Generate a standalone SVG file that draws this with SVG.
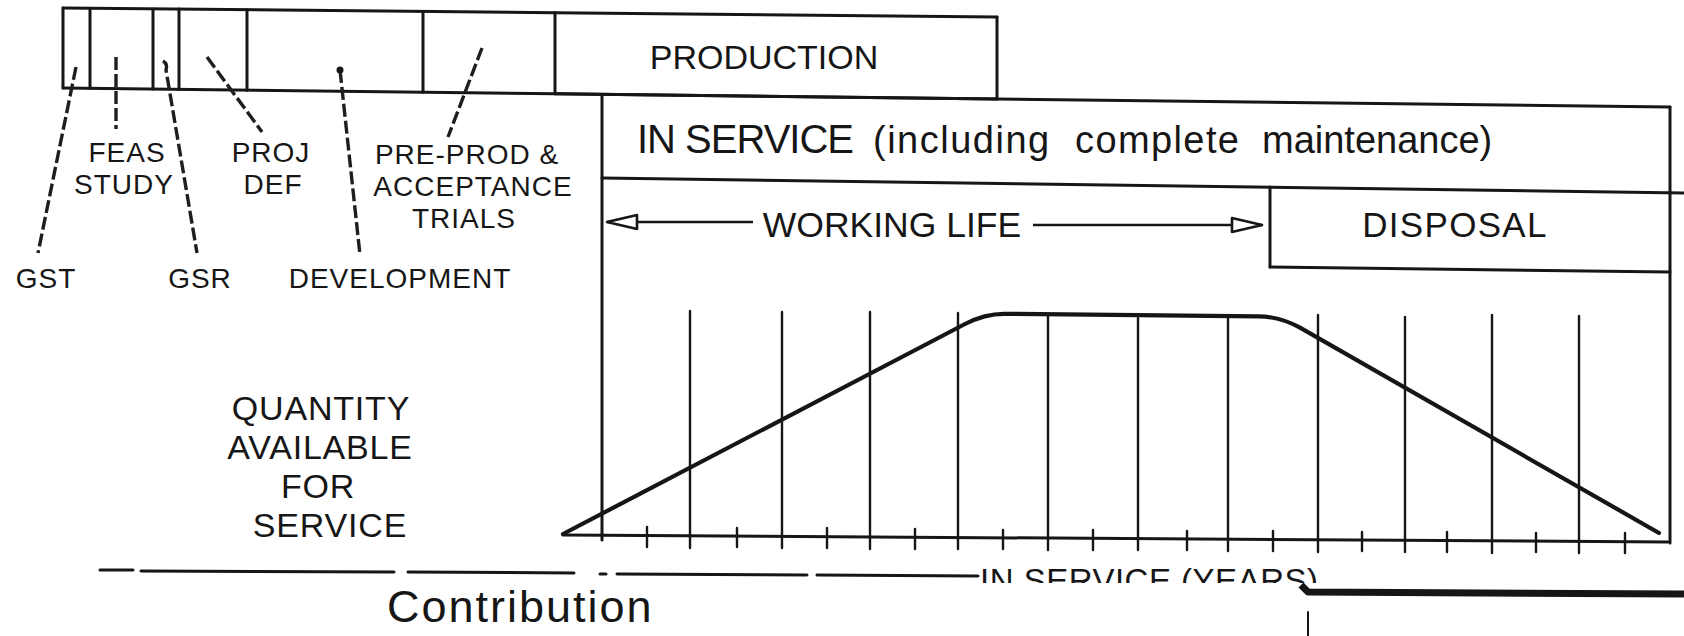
<svg xmlns="http://www.w3.org/2000/svg" width="1684" height="636" viewBox="0 0 1684 636">
  <defs>
    <style>
      .ink{stroke:#161616;fill:none;stroke-linecap:round;stroke-linejoin:round}
      .box{stroke-width:3}
      .grid{stroke-width:2.4}
      .curve{stroke-width:4.2}
      .ptr{stroke:#1e1e1e;stroke-width:3.4;fill:none;stroke-dasharray:13 4;stroke-linecap:butt}
      .arrow{stroke:#161616;stroke-width:2.6;fill:none}
      .t{font-family:"Liberation Sans",Arial,sans-serif;fill:#161616}
      .lbl{font-size:28px;letter-spacing:1px;text-anchor:middle}
      .qty{font-size:34px;letter-spacing:0.8px;text-anchor:middle}
    </style>
    <marker id="openTri" viewBox="0 0 34 18" refX="32" refY="9" markerWidth="34" markerHeight="18" markerUnits="userSpaceOnUse" orient="auto">
      <path d="M2,2 L32,9 L2,16 Z" fill="#fff" stroke="#161616" stroke-width="2.6" stroke-linejoin="round"/>
    </marker>
    <clipPath id="yearsCut">
      <rect x="960" y="555" width="420" height="28"/>
    </clipPath>
  </defs>

  <rect width="1684" height="636" fill="#fff"/>

  <!-- project phase strip along the top -->
  <g id="phase-bar" class="ink box">
    <line x1="63" y1="8" x2="555" y2="12.7"/>
    <line x1="63" y1="88" x2="555" y2="93.8"/>
    <line x1="63" y1="8" x2="63" y2="88"/>
    <line x1="90" y1="8.3" x2="90" y2="88.3"/>
    <line x1="153" y1="8.9" x2="153" y2="89.1"/>
    <line x1="179" y1="9.1" x2="179" y2="89.4"/>
    <line x1="247" y1="9.8" x2="247" y2="90.2"/>
    <line x1="423" y1="11.5" x2="423" y2="92.3"/>
    <line x1="555" y1="12.7" x2="555" y2="93.8"/>
  </g>

  <g id="production">
    <g class="ink box">
      <line x1="555" y1="12.7" x2="997" y2="17"/>
      <line x1="997" y1="17" x2="997" y2="99"/>
      <line x1="555" y1="93.8" x2="997" y2="99"/>
    </g>
    <text class="t" x="764" y="69" font-size="34" text-anchor="middle">PRODUCTION</text>
  </g>

  <g id="in-service">
    <g class="ink box">
      <line x1="555" y1="93.8" x2="1670" y2="107"/>
      <line x1="602" y1="94.4" x2="602" y2="540"/>
      <line x1="1670" y1="107" x2="1670" y2="543"/>
      <line x1="602" y1="178" x2="1684" y2="193"/>
    </g>
    <text class="t" y="153">
      <tspan x="637" font-size="40" letter-spacing="-1">IN SERVICE</tspan>
      <tspan x="873" font-size="38" letter-spacing="1.5">(including</tspan>
      <tspan x="1075" font-size="38" letter-spacing="1.4">complete</tspan>
      <tspan x="1262" font-size="38">maintenance)</tspan>
    </text>
  </g>

  <g id="working-life">
    <text class="t" x="892" y="237" font-size="35.5" text-anchor="middle">WORKING LIFE</text>
  </g>

  <g id="disposal">
    <g class="ink box">
      <line x1="1270" y1="187" x2="1270" y2="267"/>
      <line x1="1270" y1="267" x2="1670" y2="272"/>
    </g>
    <text class="t" x="1455" y="237" font-size="35" letter-spacing="1.3" text-anchor="middle">DISPOSAL</text>
  </g>

  <!-- quantity-over-time chart -->
  <g id="chart" class="ink">
    <line class="box" x1="563" y1="535" x2="1668" y2="542"/>
    <g class="grid">
      <line x1="690" y1="311" x2="690" y2="548"/>
      <line x1="782" y1="312" x2="782" y2="548"/>
      <line x1="870" y1="312" x2="870" y2="549"/>
      <line x1="958" y1="313" x2="958" y2="549"/>
      <line x1="1048" y1="315" x2="1048" y2="550"/>
      <line x1="1138" y1="318" x2="1138" y2="550"/>
      <line x1="1228" y1="317" x2="1228" y2="551"/>
      <line x1="1318" y1="315" x2="1318" y2="552"/>
      <line x1="1405" y1="317" x2="1405" y2="552"/>
      <line x1="1492" y1="315" x2="1492" y2="553"/>
      <line x1="1579" y1="316" x2="1579" y2="553"/>
      <line x1="647" y1="527" x2="647" y2="547"/>
      <line x1="737" y1="528" x2="737" y2="547"/>
      <line x1="827" y1="528" x2="827" y2="548"/>
      <line x1="915" y1="529" x2="915" y2="549"/>
      <line x1="1003" y1="530" x2="1003" y2="549"/>
      <line x1="1093" y1="530" x2="1093" y2="550"/>
      <line x1="1187" y1="531" x2="1187" y2="550"/>
      <line x1="1273" y1="531" x2="1273" y2="551"/>
      <line x1="1362" y1="532" x2="1362" y2="551"/>
      <line x1="1447" y1="532" x2="1447" y2="552"/>
      <line x1="1536" y1="533" x2="1536" y2="552"/>
      <line x1="1625" y1="533" x2="1625" y2="553"/>
    </g>
    <path class="curve" d="M563,534 L965,324 Q985,313.6 1005,313.8 L1258,316.3 Q1280,316.5 1300,327.7 L1659,533"/>
  </g>

  <!-- phase labels -->
  <g id="label-gst"><text class="t lbl" x="46" y="288">GST</text></g>
  <g id="label-feas"><text class="t lbl" x="127" y="162">FEAS</text><text class="t lbl" x="124" y="194">STUDY</text></g>
  <g id="label-gsr"><text class="t lbl" x="200" y="288">GSR</text></g>
  <g id="label-proj"><text class="t lbl" x="271" y="162">PROJ</text><text class="t lbl" x="273" y="194">DEF</text></g>
  <g id="label-development"><text class="t lbl" x="400" y="288">DEVELOPMENT</text></g>
  <g id="label-preprod">
    <text class="t lbl" x="467" y="164">PRE-PROD &amp;</text>
    <text class="t lbl" x="473" y="196">ACCEPTANCE</text>
    <text class="t lbl" x="464" y="228">TRIALS</text>
  </g>

  <g id="label-quantity">
    <text class="t qty" x="321" y="420">QUANTITY</text>
    <text class="t qty" x="320" y="459">AVAILABLE</text>
    <text class="t qty" x="318" y="498">FOR</text>
    <text class="t qty" x="330" y="537">SERVICE</text>
  </g>

  <!-- leader lines and the working-life span arrows -->
  <g id="connectors">
    <line class="ptr" x1="76" y1="67" x2="38" y2="253"/>
    <line class="ptr" x1="116" y1="57" x2="116" y2="129"/>
    <path class="ptr" d="M163,61 Q168,64 166,70 L197,253"/>
    <line class="ptr" x1="207" y1="57" x2="262" y2="132"/>
    <line class="ptr" x1="340" y1="70" x2="360" y2="255"/>
    <circle cx="340" cy="70" r="3.5" fill="#161616"/>
    <line class="ptr" x1="482" y1="48" x2="448" y2="137"/>
    <line class="arrow" x1="753" y1="222" x2="607" y2="222" marker-end="url(#openTri)"/>
    <line class="arrow" x1="1033" y1="225" x2="1262" y2="225" marker-end="url(#openTri)"/>
  </g>

  <!-- foot of the page: rules, cut-off axis title and caption -->
  <g id="footer">
    <g class="ink" stroke-width="3">
      <line x1="100" y1="570" x2="133" y2="570"/>
      <line x1="141" y1="571" x2="394" y2="572"/>
      <line x1="408" y1="572" x2="574" y2="573"/>
      <line x1="600" y1="574" x2="606" y2="574"/>
      <line x1="617" y1="574" x2="807" y2="575"/>
      <line x1="817" y1="575" x2="978" y2="576"/>
      <path d="M1301,585 L1308,592 L1684,594" stroke-width="7" stroke-linecap="butt"/>
      <line x1="1308" y1="612" x2="1308" y2="636" stroke-width="2"/>
    </g>
    <text class="t" x="980" y="592" font-size="33" letter-spacing="0.5" clip-path="url(#yearsCut)">IN SERVICE (YEARS)</text>
    <text class="t" x="387" y="622" font-size="45" letter-spacing="2">Contribution</text>
  </g>
</svg>
